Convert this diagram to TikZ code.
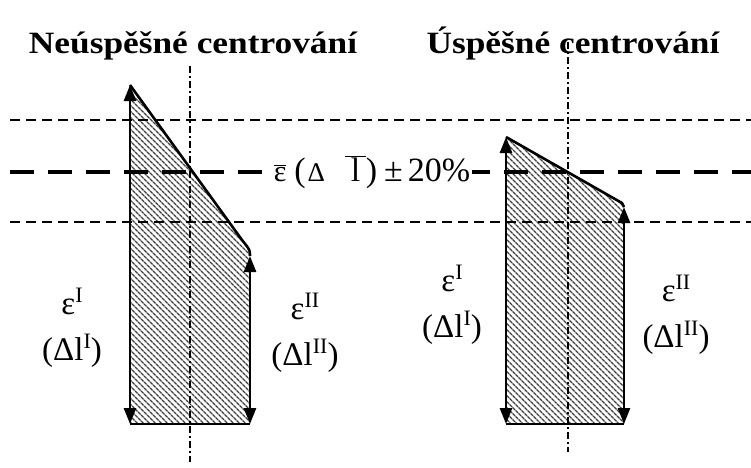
\documentclass[tikz,border=0pt]{standalone}
\usepackage{fontspec}
\setmainfont{Liberation Serif}
\usetikzlibrary{patterns.meta,arrows.meta}
\newcommand{\ovl}[1]{\ensuremath{\overline{\hbox{#1}}}}
\newcommand{\supr}[1]{\raisebox{12pt}{\fontsize{22}{22}\selectfont #1}}
\begin{document}
\begin{tikzpicture}[x=1pt,y=-1pt,
  edge/.style={line width=2.6pt},
  dbl/.style={line width=2.6pt,{Triangle[length=16pt,width=12pt]}-{Triangle[length=16pt,width=12pt]}},
  hatch/.style={pattern={Lines[angle=-45,distance=4pt,line width=1.5pt]},pattern color=black!75},
  thindash/.style={line width=2pt,dash pattern=on 10pt off 6pt},
  thickdash/.style={line width=4.5pt,dash pattern=on 24pt off 14pt},
  axis/.style={line width=1.8pt,dash pattern=on 7pt off 3pt on 2pt off 3pt},
  title/.style={font=\fontsize{31}{32}\selectfont\bfseries,inner sep=0pt,anchor=base,xscale=1.14},
  lab/.style={font=\fontsize{33}{46}\selectfont,inner sep=0pt,anchor=base,align=center},
  bandlab/.style={font=\fontsize{34}{36}\selectfont,inner sep=2pt,anchor=base,fill=white}]
\useasboundingbox (0,0) rectangle (751,467);
% coordinates
\coordinate (LTL) at (130,85);
\coordinate (LK) at (242,240);
\coordinate (LTR) at (250,256);
\coordinate (LBL) at (130,424);
\coordinate (LBR) at (250,424);
\coordinate (RTL) at (506,137);
\coordinate (RK) at (622,203);
\coordinate (RTR) at (624,207);
\coordinate (RBL) at (506,424);
\coordinate (RBR) at (624,424);
% hatched bodies
\fill[hatch] (LTL) -- (LK) .. controls (250,250) .. (LTR) -- (LBR) -- (LBL) -- cycle;
\fill[hatch] (RTL) -- (RK) -- (RTR) -- (RBR) -- (RBL) -- cycle;
% outlines
\draw[edge] (LTL) -- (LK) .. controls (250,250) .. (LTR);
\draw[edge] (LBL) -- (LBR);
\draw[dbl] (LTL) -- (LBL);
\draw[dbl] (LTR) -- (LBR);
\draw[edge] (RTL) -- (RK) -- (RTR);
\draw[edge] (RBL) -- (RBR);
\draw[dbl] (RTL) -- (RBL);
\draw[dbl] (RTR) -- (RBR);
% horizontal reference lines
\coordinate (H1a) at (10,120); \coordinate (H1b) at (751,120);
\coordinate (H2a) at (10,172); \coordinate (H2b) at (751,172);
\coordinate (H3a) at (10,222); \coordinate (H3b) at (751,222);
\draw[thindash] (H1a) -- (H1b);
\draw[thickdash] (H2a) -- (H2b);
\draw[thindash] (H3a) -- (H3b);
% axes
\coordinate (A1a) at (190,66); \coordinate (A1b) at (190,462);
\coordinate (A2a) at (568,42); \coordinate (A2b) at (568,452);
\draw[axis] (A1a) -- (A1b);
\draw[axis] (A2a) -- (A2b);
% label on thick line
\node[bandlab] (band) at (372,181)
  {{\fontsize{30}{30}\selectfont\ovl{ε}}\hspace{8pt}(\hspace{2pt}{\fontsize{27}{27}\selectfont Δ}\hspace{20pt}\ovl{\,l\,})\hspace{7pt}±\hspace{5pt}20\%};
% titles
\node[title] (t1) at (193,53) {Neúspěšné centrování};
\node[title] (t2) at (573,53) {Úspěšné centrování};
% side labels
\node[lab] (a1) at (72,360) {ε\supr{I}\\(Δl\supr{I})};
\node[lab] (a2) at (305,365) {ε\supr{II}\\(Δl\supr{II})};
\node[lab] (b1) at (452,337) {ε\supr{I}\\(Δl\supr{I})};
\node[lab] (b2) at (676,347) {ε\supr{II}\\(Δl\supr{II})};
\end{tikzpicture}
\end{document}
